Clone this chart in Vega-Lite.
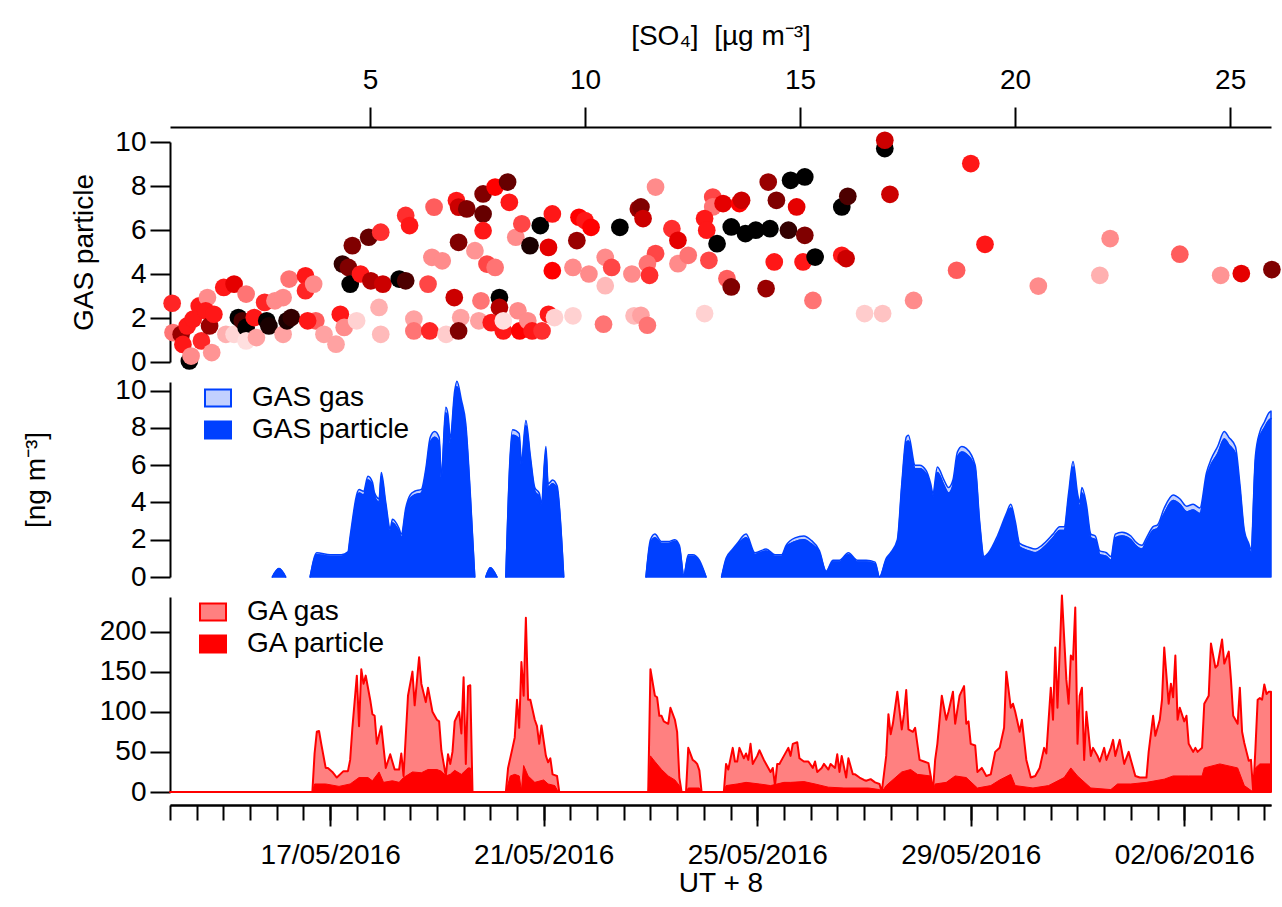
{
 "$schema": "https://vega.github.io/schema/vega-lite/v6.json",
 "background": "white",
 "autosize": {"type": "none"},
 "width": 1101,
 "height": 650,
 "padding": {"left": 170, "top": 142, "right": 11, "bottom": 115},
 "config": {
  "font": "Liberation Sans",
  "view": {"stroke": null},
  "axis": {"domainColor": "black", "tickColor": "black", "domainWidth": 2, "tickWidth": 2, "labelFontSize": 28, "titleFontSize": 28, "titleFontWeight": "normal", "labelColor": "black", "titleColor": "black", "grid": false, "labelFont": "Liberation Sans", "titleFont": "Liberation Sans"},
  "legend": {"labelFont": "Liberation Sans", "labelFontSize": 28, "labelColor": "black", "padding": 0}
 },
 "datasets": {
  "scatter": [
   {"so4":0.40,"gas_p":2.67,"c":0.42},{"so4":0.42,"gas_p":1.34,"c":0.25},{"so4":0.61,"gas_p":1.26,"c":0.7},{"so4":0.65,"gas_p":0.8,"c":0.45},{"so4":0.80,"gas_p":0.05,"c":1},{"so4":0.84,"gas_p":0.27,"c":0.2},{"so4":0.75,"gas_p":1.64,"c":0.45},{"so4":0.89,"gas_p":1.95,"c":0.45},{"so4":1.03,"gas_p":2.55,"c":0.45},{"so4":1.22,"gas_p":2.93,"c":0.2},
   {"so4":1.18,"gas_p":2.33,"c":0.45},{"so4":1.08,"gas_p":0.96,"c":0.42},{"so4":1.32,"gas_p":0.43,"c":0.18},{"so4":1.27,"gas_p":1.64,"c":0.7},{"so4":1.37,"gas_p":2.17,"c":0.45},{"so4":1.60,"gas_p":3.39,"c":0.45},{"so4":1.84,"gas_p":3.54,"c":0.55},{"so4":1.65,"gas_p":1.26,"c":0.12},{"so4":1.84,"gas_p":1.26,"c":0.04},{"so4":1.94,"gas_p":2.02,"c":1},
   {"so4":2.03,"gas_p":1.87,"c":0.85},{"so4":2.12,"gas_p":1.57,"c":1},{"so4":2.12,"gas_p":3.09,"c":0.25},{"so4":2.31,"gas_p":2.02,"c":0.45},{"so4":2.12,"gas_p":0.96,"c":0.02},{"so4":2.36,"gas_p":1.11,"c":0.15},{"so4":2.55,"gas_p":2.71,"c":0.42},{"so4":2.60,"gas_p":1.87,"c":1},{"so4":2.65,"gas_p":1.64,"c":0.95},{"so4":2.79,"gas_p":2.78,"c":0.2},
   {"so4":2.98,"gas_p":2.93,"c":0.2},{"so4":2.98,"gas_p":1.26,"c":0.15},{"so4":3.07,"gas_p":1.87,"c":0.95},{"so4":3.17,"gas_p":2.02,"c":0.9},{"so4":3.12,"gas_p":3.77,"c":0.25},{"so4":3.50,"gas_p":3.92,"c":0.45},{"so4":3.50,"gas_p":3.24,"c":0.42},{"so4":3.69,"gas_p":3.54,"c":0.2},{"so4":3.74,"gas_p":1.87,"c":0.3},{"so4":3.55,"gas_p":1.87,"c":0.45},
   {"so4":3.93,"gas_p":1.26,"c":0.15},{"so4":4.21,"gas_p":0.81,"c":0.15},{"so4":4.31,"gas_p":2.17,"c":0.45},{"so4":4.40,"gas_p":1.57,"c":0.2},{"so4":4.36,"gas_p":4.45,"c":0.9},{"so4":4.50,"gas_p":4.30,"c":0.75},{"so4":4.59,"gas_p":5.29,"c":0.75},{"so4":4.54,"gas_p":3.54,"c":1},{"so4":4.69,"gas_p":1.87,"c":0.05},{"so4":4.78,"gas_p":4.0,"c":0.45},
   {"so4":4.97,"gas_p":5.67,"c":0.8},{"so4":5.02,"gas_p":3.69,"c":0.65},{"so4":5.21,"gas_p":2.48,"c":0.12},{"so4":5.25,"gas_p":1.26,"c":0.1},{"so4":5.25,"gas_p":5.90,"c":0.4},{"so4":5.30,"gas_p":3.54,"c":0.6},{"so4":5.68,"gas_p":3.77,"c":1},{"so4":5.83,"gas_p":3.69,"c":0.85},{"so4":5.83,"gas_p":6.66,"c":0.4},{"so4":5.92,"gas_p":6.20,"c":0.45},
   {"so4":6.02,"gas_p":1.95,"c":0.15},{"so4":6.02,"gas_p":1.41,"c":0.25},{"so4":6.35,"gas_p":3.54,"c":0.35},{"so4":6.39,"gas_p":1.41,"c":0.42},{"so4":6.44,"gas_p":4.76,"c":0.2},{"so4":6.49,"gas_p":7.04,"c":0.3},{"so4":6.68,"gas_p":4.60,"c":0.2},{"so4":6.77,"gas_p":1.26,"c":0.06},{"so4":6.96,"gas_p":2.93,"c":0.6},{"so4":7.01,"gas_p":7.34,"c":0.45},
   {"so4":7.06,"gas_p":5.44,"c":0.75},{"so4":7.06,"gas_p":7.04,"c":0.6},{"so4":7.11,"gas_p":2.02,"c":0.15},{"so4":7.06,"gas_p":1.41,"c":0.75},{"so4":7.25,"gas_p":6.96,"c":0.75},{"so4":7.44,"gas_p":5.06,"c":0.18},{"so4":7.53,"gas_p":1.87,"c":0.15},{"so4":7.58,"gas_p":2.78,"c":0.25},{"so4":7.63,"gas_p":6.73,"c":0.8},{"so4":7.63,"gas_p":7.64,"c":0.75},
   {"so4":7.63,"gas_p":5.97,"c":0.45},{"so4":7.72,"gas_p":4.45,"c":0.35},{"so4":7.82,"gas_p":1.79,"c":0.45},{"so4":7.91,"gas_p":4.30,"c":0.25},{"so4":7.91,"gas_p":7.95,"c":0.5},{"so4":8.01,"gas_p":2.93,"c":1},{"so4":8.01,"gas_p":2.48,"c":0.65},{"so4":8.10,"gas_p":1.41,"c":0.45},{"so4":8.10,"gas_p":1.87,"c":0.02},{"so4":8.20,"gas_p":8.18,"c":0.8},
   {"so4":8.24,"gas_p":7.26,"c":0.45},{"so4":8.39,"gas_p":5.67,"c":0.2},{"so4":8.44,"gas_p":2.33,"c":0.2},{"so4":8.48,"gas_p":1.41,"c":0.5},{"so4":8.53,"gas_p":6.28,"c":0.35},{"so4":8.67,"gas_p":1.87,"c":0.2},{"so4":8.72,"gas_p":5.29,"c":0.95},{"so4":8.77,"gas_p":1.41,"c":0.45},{"so4":8.96,"gas_p":6.20,"c":1},{"so4":9.00,"gas_p":1.41,"c":0.4},
   {"so4":9.15,"gas_p":2.17,"c":0.45},{"so4":9.15,"gas_p":5.21,"c":0.55},{"so4":9.24,"gas_p":6.73,"c":0.45},{"so4":9.24,"gas_p":4.15,"c":0.5},{"so4":9.29,"gas_p":2.02,"c":0.05},{"so4":9.72,"gas_p":2.10,"c":0.05},{"so4":9.72,"gas_p":4.30,"c":0.2},{"so4":9.81,"gas_p":5.52,"c":0.7},{"so4":9.86,"gas_p":6.58,"c":0.5},{"so4":10.0,"gas_p":6.43,"c":0.45},
   {"so4":10.09,"gas_p":4.0,"c":0.2},{"so4":10.14,"gas_p":6.12,"c":0.5},{"so4":10.43,"gas_p":1.72,"c":0.25},{"so4":10.47,"gas_p":4.76,"c":0.2},{"so4":10.47,"gas_p":3.47,"c":0.1},{"so4":10.62,"gas_p":4.30,"c":0.35},{"so4":10.81,"gas_p":6.12,"c":1},{"so4":11.14,"gas_p":2.10,"c":0.1},{"so4":11.09,"gas_p":4.0,"c":0.2},{"so4":11.24,"gas_p":6.96,"c":0.7},
   {"so4":11.64,"gas_p":7.95,"c":0.2},{"so4":11.3,"gas_p":7.05,"c":0.75},{"so4":11.35,"gas_p":6.52,"c":0.6},{"so4":12.02,"gas_p":6.06,"c":0.4},{"so4":12.16,"gas_p":5.53,"c":0.55},{"so4":11.64,"gas_p":4.93,"c":0.35},{"so4":11.45,"gas_p":4.47,"c":0.25},{"so4":11.50,"gas_p":3.94,"c":0.4},{"so4":11.3,"gas_p":2.12,"c":0.15},{"so4":11.45,"gas_p":1.67,"c":0.25},
   {"so4":12.16,"gas_p":4.47,"c":0.2},{"so4":12.40,"gas_p":4.85,"c":0.25},{"so4":12.78,"gas_p":2.2,"c":0.05},{"so4":12.88,"gas_p":4.62,"c":0.35},{"so4":12.97,"gas_p":7.5,"c":0.35},{"so4":12.97,"gas_p":7.05,"c":0.25},{"so4":12.78,"gas_p":6.52,"c":0.45},{"so4":12.83,"gas_p":5.99,"c":0.45},{"so4":13.07,"gas_p":5.38,"c":1},{"so4":13.21,"gas_p":7.2,"c":0.55},
   {"so4":13.30,"gas_p":3.79,"c":0.3},{"so4":13.40,"gas_p":3.41,"c":0.75},{"so4":13.40,"gas_p":6.14,"c":1},{"so4":13.59,"gas_p":7.2,"c":0.5},{"so4":13.64,"gas_p":7.35,"c":0.6},{"so4":13.73,"gas_p":5.84,"c":1},{"so4":13.97,"gas_p":5.99,"c":1},{"so4":14.30,"gas_p":6.06,"c":1},{"so4":14.26,"gas_p":8.18,"c":0.7},{"so4":14.45,"gas_p":7.35,"c":0.75},
   {"so4":14.21,"gas_p":3.34,"c":0.7},{"so4":14.40,"gas_p":4.55,"c":0.45},{"so4":14.73,"gas_p":5.99,"c":0.9},{"so4":14.78,"gas_p":8.26,"c":1},{"so4":14.92,"gas_p":7.05,"c":0.55},{"so4":15.07,"gas_p":4.55,"c":0.45},{"so4":15.11,"gas_p":8.41,"c":1},{"so4":15.11,"gas_p":5.76,"c":0.75},{"so4":15.35,"gas_p":4.77,"c":1},{"so4":15.30,"gas_p":2.80,"c":0.25},
   {"so4":15.97,"gas_p":7.05,"c":1},{"so4":16.11,"gas_p":7.53,"c":0.85},{"so4":15.97,"gas_p":4.85,"c":0.45},{"so4":16.07,"gas_p":4.70,"c":0.6},{"so4":16.50,"gas_p":2.2,"c":0.06},{"so4":16.92,"gas_p":2.2,"c":0.08},{"so4":16.97,"gas_p":9.70,"c":1},{"so4":16.97,"gas_p":10.08,"c":0.6},{"so4":17.09,"gas_p":7.62,"c":0.6},{"so4":17.64,"gas_p":2.80,"c":0.2},
   {"so4":18.64,"gas_p":4.17,"c":0.3},{"so4":18.97,"gas_p":9.02,"c":0.45},{"so4":19.30,"gas_p":5.35,"c":0.45},{"so4":20.54,"gas_p":3.45,"c":0.2},{"so4":21.97,"gas_p":3.94,"c":0.12},{"so4":22.21,"gas_p":5.61,"c":0.2},{"so4":23.83,"gas_p":4.90,"c":0.3},{"so4":24.78,"gas_p":3.94,"c":0.18},{"so4":25.26,"gas_p":4.02,"c":0.55},{"so4":25.97,"gas_p":4.20,"c":0.75}
  ],
  "gas": [
   {"t":"2016-05-15T22:00","s":1,"GAS particle":0,"GAS gas":0},{"t":"2016-05-16T01:00","s":1,"GAS particle":0.45,"GAS gas":0},{"t":"2016-05-16T04:00","s":1,"GAS particle":0,"GAS gas":0},
   {"t":"2016-05-16T15:00","s":2,"GAS particle":0,"GAS gas":0},{"t":"2016-05-16T18:00","s":2,"GAS particle":1.2,"GAS gas":0.1},{"t":"2016-05-17T00:00","s":2,"GAS particle":1.1,"GAS gas":0.1},{"t":"2016-05-17T05:00","s":2,"GAS particle":1.1,"GAS gas":0.1},{"t":"2016-05-17T08:00","s":2,"GAS particle":1.25,"GAS gas":0.1},{"t":"2016-05-17T09:00","s":2,"GAS particle":2.0,"GAS gas":0.2},{"t":"2016-05-17T13:00","s":2,"GAS particle":4.5,"GAS gas":0.2},{"t":"2016-05-17T15:00","s":2,"GAS particle":4.4,"GAS gas":0.2},{"t":"2016-05-17T17:00","s":2,"GAS particle":5.2,"GAS gas":0.2},{"t":"2016-05-17T19:00","s":2,"GAS particle":4.9,"GAS gas":0.2},{"t":"2016-05-17T20:00","s":2,"GAS particle":4.3,"GAS gas":0.2},{"t":"2016-05-17T22:00","s":2,"GAS particle":4.0,"GAS gas":0.2},{"t":"2016-05-17T23:00","s":2,"GAS particle":5.4,"GAS gas":0.2},{"t":"2016-05-18T01:00","s":2,"GAS particle":3.8,"GAS gas":0.2},{"t":"2016-05-18T03:00","s":2,"GAS particle":2.4,"GAS gas":0.2},{"t":"2016-05-18T04:00","s":2,"GAS particle":2.9,"GAS gas":0.2},{"t":"2016-05-18T07:00","s":2,"GAS particle":2.4,"GAS gas":0.2},{"t":"2016-05-18T08:00","s":2,"GAS particle":2.1,"GAS gas":0.2},{"t":"2016-05-18T10:00","s":2,"GAS particle":3.5,"GAS gas":0.2},{"t":"2016-05-18T12:00","s":2,"GAS particle":4.2,"GAS gas":0.2},{"t":"2016-05-18T14:00","s":2,"GAS particle":4.4,"GAS gas":0.2},{"t":"2016-05-18T17:00","s":2,"GAS particle":4.5,"GAS gas":0.2},{"t":"2016-05-18T19:00","s":2,"GAS particle":5.6,"GAS gas":0.2},{"t":"2016-05-18T21:00","s":2,"GAS particle":7.2,"GAS gas":0.3},{"t":"2016-05-18T23:00","s":2,"GAS particle":7.5,"GAS gas":0.3},{"t":"2016-05-19T01:00","s":2,"GAS particle":7.2,"GAS gas":0.3},{"t":"2016-05-19T02:00","s":2,"GAS particle":5.3,"GAS gas":0.2},{"t":"2016-05-19T04:00","s":2,"GAS particle":8.8,"GAS gas":0.3},{"t":"2016-05-19T05:00","s":2,"GAS particle":8.4,"GAS gas":0.3},{"t":"2016-05-19T06:00","s":2,"GAS particle":7.2,"GAS gas":0.3},{"t":"2016-05-19T08:00","s":2,"GAS particle":9.7,"GAS gas":0.3},{"t":"2016-05-19T09:00","s":2,"GAS particle":10.2,"GAS gas":0.3},{"t":"2016-05-19T11:00","s":2,"GAS particle":9.2,"GAS gas":0.3},{"t":"2016-05-19T13:00","s":2,"GAS particle":7.9,"GAS gas":0.3},{"t":"2016-05-19T15:00","s":2,"GAS particle":4.3,"GAS gas":0.2},{"t":"2016-05-19T17:00","s":2,"GAS particle":0,"GAS gas":0},
   {"t":"2016-05-19T22:00","s":3,"GAS particle":0,"GAS gas":0},{"t":"2016-05-20T00:00","s":3,"GAS particle":0.5,"GAS gas":0},{"t":"2016-05-20T03:00","s":3,"GAS particle":0,"GAS gas":0},
   {"t":"2016-05-20T07:00","s":4,"GAS particle":0,"GAS gas":0},{"t":"2016-05-20T10:00","s":4,"GAS particle":7.6,"GAS gas":0.3},{"t":"2016-05-20T13:00","s":4,"GAS particle":7.4,"GAS gas":0.3},{"t":"2016-05-20T14:00","s":4,"GAS particle":6.0,"GAS gas":0.2},{"t":"2016-05-20T16:00","s":4,"GAS particle":8.1,"GAS gas":0.3},{"t":"2016-05-20T18:00","s":4,"GAS particle":6.3,"GAS gas":0.2},{"t":"2016-05-20T20:00","s":4,"GAS particle":4.6,"GAS gas":0.2},{"t":"2016-05-20T22:00","s":4,"GAS particle":4.3,"GAS gas":0.2},{"t":"2016-05-20T23:00","s":4,"GAS particle":3.8,"GAS gas":0.2},{"t":"2016-05-21T01:00","s":4,"GAS particle":6.7,"GAS gas":0.3},{"t":"2016-05-21T02:00","s":4,"GAS particle":4.8,"GAS gas":0.2},{"t":"2016-05-21T04:00","s":4,"GAS particle":5.0,"GAS gas":0.2},{"t":"2016-05-21T06:00","s":4,"GAS particle":4.7,"GAS gas":0.2},{"t":"2016-05-21T09:00","s":4,"GAS particle":0,"GAS gas":0},
   {"t":"2016-05-22T22:00","s":5,"GAS particle":0,"GAS gas":0},{"t":"2016-05-23T00:00","s":5,"GAS particle":1.8,"GAS gas":0.2},{"t":"2016-05-23T02:00","s":5,"GAS particle":2.1,"GAS gas":0.2},{"t":"2016-05-23T05:00","s":5,"GAS particle":1.8,"GAS gas":0.1},{"t":"2016-05-23T08:00","s":5,"GAS particle":1.8,"GAS gas":0.1},{"t":"2016-05-23T11:00","s":5,"GAS particle":1.9,"GAS gas":0.1},{"t":"2016-05-23T13:00","s":5,"GAS particle":1.6,"GAS gas":0.1},{"t":"2016-05-23T15:00","s":5,"GAS particle":0.1,"GAS gas":0},{"t":"2016-05-23T17:00","s":5,"GAS particle":1.1,"GAS gas":0.1},{"t":"2016-05-23T19:00","s":5,"GAS particle":1.1,"GAS gas":0.1},{"t":"2016-05-23T22:00","s":5,"GAS particle":0.8,"GAS gas":0.1},{"t":"2016-05-24T01:00","s":5,"GAS particle":0,"GAS gas":0},
   {"t":"2016-05-24T08:00","s":6,"GAS particle":0,"GAS gas":0},{"t":"2016-05-24T10:00","s":6,"GAS particle":0.9,"GAS gas":0.1},{"t":"2016-05-24T13:00","s":6,"GAS particle":1.4,"GAS gas":0.1},{"t":"2016-05-24T15:00","s":6,"GAS particle":1.7,"GAS gas":0.1},{"t":"2016-05-24T19:00","s":6,"GAS particle":2.1,"GAS gas":0.2},{"t":"2016-05-24T23:00","s":6,"GAS particle":1.2,"GAS gas":0.1},{"t":"2016-05-25T04:00","s":6,"GAS particle":1.4,"GAS gas":0.1},{"t":"2016-05-25T08:00","s":6,"GAS particle":1.1,"GAS gas":0.1},{"t":"2016-05-25T11:00","s":6,"GAS particle":1.1,"GAS gas":0.1},{"t":"2016-05-25T13:00","s":6,"GAS particle":1.6,"GAS gas":0.1},{"t":"2016-05-25T17:00","s":6,"GAS particle":1.9,"GAS gas":0.2},{"t":"2016-05-25T21:00","s":6,"GAS particle":2.0,"GAS gas":0.2},{"t":"2016-05-26T00:00","s":6,"GAS particle":1.8,"GAS gas":0.2},{"t":"2016-05-26T04:00","s":6,"GAS particle":1.3,"GAS gas":0.1},{"t":"2016-05-26T07:00","s":6,"GAS particle":0.3,"GAS gas":0},{"t":"2016-05-26T10:00","s":6,"GAS particle":0.8,"GAS gas":0.1},{"t":"2016-05-26T13:00","s":6,"GAS particle":0.8,"GAS gas":0.1},{"t":"2016-05-26T17:00","s":6,"GAS particle":1.2,"GAS gas":0.1},{"t":"2016-05-26T21:00","s":6,"GAS particle":0.8,"GAS gas":0.1},{"t":"2016-05-27T01:00","s":6,"GAS particle":0.8,"GAS gas":0.1},{"t":"2016-05-27T05:00","s":6,"GAS particle":0.7,"GAS gas":0.1},{"t":"2016-05-27T07:00","s":6,"GAS particle":0,"GAS gas":0},{"t":"2016-05-27T10:00","s":6,"GAS particle":0.9,"GAS gas":0.1},{"t":"2016-05-27T12:00","s":6,"GAS particle":1.2,"GAS gas":0.1},{"t":"2016-05-27T15:00","s":6,"GAS particle":1.8,"GAS gas":0.2},{"t":"2016-05-27T17:00","s":6,"GAS particle":4.8,"GAS gas":0.2},{"t":"2016-05-27T19:00","s":6,"GAS particle":7.2,"GAS gas":0.3},{"t":"2016-05-27T20:00","s":6,"GAS particle":7.3,"GAS gas":0.3},{"t":"2016-05-27T23:00","s":6,"GAS particle":5.8,"GAS gas":0.2},{"t":"2016-05-28T01:00","s":6,"GAS particle":5.8,"GAS gas":0.2},{"t":"2016-05-28T04:00","s":6,"GAS particle":5.5,"GAS gas":0.2},{"t":"2016-05-28T06:00","s":6,"GAS particle":4.8,"GAS gas":0.2},{"t":"2016-05-28T07:00","s":6,"GAS particle":4.3,"GAS gas":0.2},{"t":"2016-05-28T09:00","s":6,"GAS particle":5.6,"GAS gas":0.3},{"t":"2016-05-28T12:00","s":6,"GAS particle":4.9,"GAS gas":0.3},{"t":"2016-05-28T14:00","s":6,"GAS particle":4.5,"GAS gas":0.3},{"t":"2016-05-28T16:00","s":6,"GAS particle":4.9,"GAS gas":0.3},{"t":"2016-05-28T18:00","s":6,"GAS particle":6.4,"GAS gas":0.3},{"t":"2016-05-28T20:00","s":6,"GAS particle":6.7,"GAS gas":0.3},{"t":"2016-05-28T22:00","s":6,"GAS particle":6.6,"GAS gas":0.3},{"t":"2016-05-29T02:00","s":6,"GAS particle":5.8,"GAS gas":0.2},{"t":"2016-05-29T04:00","s":6,"GAS particle":2.8,"GAS gas":0.2},{"t":"2016-05-29T06:00","s":6,"GAS particle":1.0,"GAS gas":0.1},{"t":"2016-05-29T08:00","s":6,"GAS particle":1.2,"GAS gas":0.1},{"t":"2016-05-29T12:00","s":6,"GAS particle":2.0,"GAS gas":0.2},{"t":"2016-05-29T16:00","s":6,"GAS particle":3.2,"GAS gas":0.2},{"t":"2016-05-29T18:00","s":6,"GAS particle":3.7,"GAS gas":0.2},{"t":"2016-05-29T20:00","s":6,"GAS particle":2.8,"GAS gas":0.2},{"t":"2016-05-29T22:00","s":6,"GAS particle":1.6,"GAS gas":0.2},{"t":"2016-05-30T02:00","s":6,"GAS particle":1.4,"GAS gas":0.2},{"t":"2016-05-30T05:00","s":6,"GAS particle":1.3,"GAS gas":0.2},{"t":"2016-05-30T08:00","s":6,"GAS particle":1.5,"GAS gas":0.2},{"t":"2016-05-30T13:00","s":6,"GAS particle":2.1,"GAS gas":0.2},{"t":"2016-05-30T16:00","s":6,"GAS particle":2.5,"GAS gas":0.2},{"t":"2016-05-30T18:00","s":6,"GAS particle":2.5,"GAS gas":0.2},{"t":"2016-05-30T20:00","s":6,"GAS particle":4.2,"GAS gas":0.3},{"t":"2016-05-30T22:00","s":6,"GAS particle":5.9,"GAS gas":0.3},{"t":"2016-05-31T00:00","s":6,"GAS particle":4.2,"GAS gas":0.3},{"t":"2016-05-31T01:00","s":6,"GAS particle":3.7,"GAS gas":0.3},{"t":"2016-05-31T02:00","s":6,"GAS particle":4.5,"GAS gas":0.3},{"t":"2016-05-31T04:00","s":6,"GAS particle":3.6,"GAS gas":0.3},{"t":"2016-05-31T06:00","s":6,"GAS particle":2.1,"GAS gas":0.2},{"t":"2016-05-31T08:00","s":6,"GAS particle":2.0,"GAS gas":0.2},{"t":"2016-05-31T10:00","s":6,"GAS particle":1.2,"GAS gas":0.2},{"t":"2016-05-31T13:00","s":6,"GAS particle":1.1,"GAS gas":0.2},{"t":"2016-05-31T15:00","s":6,"GAS particle":0.9,"GAS gas":0.2},{"t":"2016-05-31T17:00","s":6,"GAS particle":2.1,"GAS gas":0.2},{"t":"2016-05-31T20:00","s":6,"GAS particle":2.2,"GAS gas":0.2},{"t":"2016-06-01T00:00","s":6,"GAS particle":2.0,"GAS gas":0.2},{"t":"2016-06-01T02:00","s":6,"GAS particle":1.7,"GAS gas":0.2},{"t":"2016-06-01T05:00","s":6,"GAS particle":1.5,"GAS gas":0.2},{"t":"2016-06-01T07:00","s":6,"GAS particle":1.9,"GAS gas":0.2},{"t":"2016-06-01T10:00","s":6,"GAS particle":2.5,"GAS gas":0.2},{"t":"2016-06-01T12:00","s":6,"GAS particle":2.6,"GAS gas":0.2},{"t":"2016-06-01T15:00","s":6,"GAS particle":3.4,"GAS gas":0.3},{"t":"2016-06-01T19:00","s":6,"GAS particle":4.1,"GAS gas":0.3},{"t":"2016-06-01T22:00","s":6,"GAS particle":3.9,"GAS gas":0.3},{"t":"2016-06-02T01:00","s":6,"GAS particle":3.5,"GAS gas":0.3},{"t":"2016-06-02T04:00","s":6,"GAS particle":3.6,"GAS gas":0.3},{"t":"2016-06-02T07:00","s":6,"GAS particle":3.4,"GAS gas":0.3},{"t":"2016-06-02T10:00","s":6,"GAS particle":5.3,"GAS gas":0.3},{"t":"2016-06-02T12:00","s":6,"GAS particle":6.0,"GAS gas":0.3},{"t":"2016-06-02T15:00","s":6,"GAS particle":6.6,"GAS gas":0.4},{"t":"2016-06-02T18:00","s":6,"GAS particle":7.4,"GAS gas":0.4},{"t":"2016-06-02T20:00","s":6,"GAS particle":7.1,"GAS gas":0.4},{"t":"2016-06-02T23:00","s":6,"GAS particle":6.6,"GAS gas":0.4},{"t":"2016-06-03T01:00","s":6,"GAS particle":4.7,"GAS gas":0.3},{"t":"2016-06-03T03:00","s":6,"GAS particle":2.3,"GAS gas":0.2},{"t":"2016-06-03T05:00","s":6,"GAS particle":1.6,"GAS gas":0.2},{"t":"2016-06-03T06:00","s":6,"GAS particle":1.3,"GAS gas":0.2},{"t":"2016-06-03T08:00","s":6,"GAS particle":6.2,"GAS gas":0.3},{"t":"2016-06-03T10:00","s":6,"GAS particle":7.5,"GAS gas":0.3},{"t":"2016-06-03T12:00","s":6,"GAS particle":8.0,"GAS gas":0.3},{"t":"2016-06-03T14:00","s":6,"GAS particle":8.4,"GAS gas":0.4},{"t":"2016-06-03T15:00","s":6,"GAS particle":8.5,"GAS gas":0.4}
  ],
  "ga_gas": [
   {"t":"2016-05-14T00:00","v":0},{"t":"2016-05-16T16:00","v":0},{"t":"2016-05-16T17:00","v":48},{"t":"2016-05-16T18:00","v":75},{"t":"2016-05-16T19:00","v":76},{"t":"2016-05-16T20:00","v":60},{"t":"2016-05-16T22:00","v":30},{"t":"2016-05-16T23:00","v":30},{"t":"2016-05-17T01:00","v":25},{"t":"2016-05-17T03:00","v":18},{"t":"2016-05-17T06:00","v":26},{"t":"2016-05-17T08:00","v":26},{"t":"2016-05-17T09:00","v":40},{"t":"2016-05-17T10:00","v":80},{"t":"2016-05-17T12:00","v":145},{"t":"2016-05-17T13:00","v":82},{"t":"2016-05-17T14:00","v":153},{"t":"2016-05-17T15:00","v":135},{"t":"2016-05-17T16:00","v":145},{"t":"2016-05-17T18:00","v":115},{"t":"2016-05-17T19:00","v":97},{"t":"2016-05-17T20:00","v":95},{"t":"2016-05-17T21:00","v":60},{"t":"2016-05-17T23:00","v":82},{"t":"2016-05-18T01:00","v":30},{"t":"2016-05-18T03:00","v":47},{"t":"2016-05-18T05:00","v":28},{"t":"2016-05-18T07:00","v":28},{"t":"2016-05-18T08:00","v":48},{"t":"2016-05-18T09:00","v":20},{"t":"2016-05-18T11:00","v":120},{"t":"2016-05-18T13:00","v":150},{"t":"2016-05-18T14:00","v":108},{"t":"2016-05-18T16:00","v":168},{"t":"2016-05-18T17:00","v":135},{"t":"2016-05-18T19:00","v":112},{"t":"2016-05-18T20:00","v":130},{"t":"2016-05-18T22:00","v":100},{"t":"2016-05-19T00:00","v":90},{"t":"2016-05-19T01:00","v":88},{"t":"2016-05-19T02:00","v":52},{"t":"2016-05-19T04:00","v":20},{"t":"2016-05-19T05:00","v":47},{"t":"2016-05-19T06:00","v":35},{"t":"2016-05-19T07:00","v":50},{"t":"2016-05-19T08:00","v":88},{"t":"2016-05-19T10:00","v":100},{"t":"2016-05-19T11:00","v":73},{"t":"2016-05-19T12:00","v":143},{"t":"2016-05-19T13:00","v":35},{"t":"2016-05-19T14:00","v":132},{"t":"2016-05-19T15:00","v":133},{"t":"2016-05-19T16:00","v":0},
   {"t":"2016-05-20T07:00","v":0},{"t":"2016-05-20T08:00","v":30},{"t":"2016-05-20T10:00","v":55},{"t":"2016-05-20T11:00","v":68},{"t":"2016-05-20T12:00","v":115},{"t":"2016-05-20T13:00","v":80},{"t":"2016-05-20T14:00","v":162},{"t":"2016-05-20T15:00","v":120},{"t":"2016-05-20T16:00","v":217},{"t":"2016-05-20T17:00","v":115},{"t":"2016-05-20T18:00","v":115},{"t":"2016-05-20T20:00","v":90},{"t":"2016-05-20T21:00","v":82},{"t":"2016-05-20T22:00","v":60},{"t":"2016-05-20T23:00","v":83},{"t":"2016-05-21T01:00","v":45},{"t":"2016-05-21T02:00","v":37},{"t":"2016-05-21T03:00","v":42},{"t":"2016-05-21T04:00","v":22},{"t":"2016-05-21T06:00","v":20},{"t":"2016-05-21T07:00","v":0},
   {"t":"2016-05-22T23:00","v":0},{"t":"2016-05-23T00:00","v":153},{"t":"2016-05-23T02:00","v":120},{"t":"2016-05-23T03:00","v":118},{"t":"2016-05-23T04:00","v":95},{"t":"2016-05-23T05:00","v":95},{"t":"2016-05-23T06:00","v":88},{"t":"2016-05-23T08:00","v":85},{"t":"2016-05-23T09:00","v":105},{"t":"2016-05-23T11:00","v":90},{"t":"2016-05-23T12:00","v":75},{"t":"2016-05-23T13:00","v":18},{"t":"2016-05-23T14:00","v":0},{"t":"2016-05-23T16:00","v":0},{"t":"2016-05-23T17:00","v":55},{"t":"2016-05-23T19:00","v":40},{"t":"2016-05-23T20:00","v":38},{"t":"2016-05-23T21:00","v":35},{"t":"2016-05-23T22:00","v":27},{"t":"2016-05-23T23:00","v":0},
   {"t":"2016-05-24T09:00","v":0},{"t":"2016-05-24T10:00","v":35},{"t":"2016-05-24T11:00","v":28},{"t":"2016-05-24T13:00","v":55},{"t":"2016-05-24T14:00","v":38},{"t":"2016-05-24T15:00","v":38},{"t":"2016-05-24T16:00","v":55},{"t":"2016-05-24T18:00","v":42},{"t":"2016-05-24T19:00","v":48},{"t":"2016-05-24T20:00","v":40},{"t":"2016-05-24T21:00","v":60},{"t":"2016-05-24T22:00","v":35},{"t":"2016-05-25T00:00","v":45},{"t":"2016-05-25T01:00","v":52},{"t":"2016-05-25T03:00","v":40},{"t":"2016-05-25T04:00","v":35},{"t":"2016-05-25T06:00","v":25},{"t":"2016-05-25T07:00","v":30},{"t":"2016-05-25T08:00","v":8},{"t":"2016-05-25T09:00","v":35},{"t":"2016-05-25T10:00","v":35},{"t":"2016-05-25T12:00","v":45},{"t":"2016-05-25T14:00","v":55},{"t":"2016-05-25T15:00","v":45},{"t":"2016-05-25T16:00","v":60},{"t":"2016-05-25T18:00","v":62},{"t":"2016-05-25T19:00","v":42},{"t":"2016-05-25T21:00","v":38},{"t":"2016-05-25T23:00","v":38},{"t":"2016-05-26T01:00","v":30},{"t":"2016-05-26T02:00","v":38},{"t":"2016-05-26T03:00","v":25},{"t":"2016-05-26T05:00","v":30},{"t":"2016-05-26T06:00","v":35},{"t":"2016-05-26T08:00","v":28},{"t":"2016-05-26T09:00","v":35},{"t":"2016-05-26T11:00","v":30},{"t":"2016-05-26T12:00","v":47},{"t":"2016-05-26T13:00","v":25},{"t":"2016-05-26T14:00","v":45},{"t":"2016-05-26T16:00","v":18},{"t":"2016-05-26T17:00","v":42},{"t":"2016-05-26T19:00","v":22},{"t":"2016-05-26T20:00","v":22},{"t":"2016-05-26T22:00","v":18},{"t":"2016-05-27T00:00","v":15},{"t":"2016-05-27T01:00","v":14},{"t":"2016-05-27T03:00","v":16},{"t":"2016-05-27T05:00","v":12},{"t":"2016-05-27T07:00","v":10},{"t":"2016-05-27T08:00","v":0},
   {"t":"2016-05-27T10:00","v":45},{"t":"2016-05-27T11:00","v":97},{"t":"2016-05-27T12:00","v":72},{"t":"2016-05-27T13:00","v":85},{"t":"2016-05-27T15:00","v":125},{"t":"2016-05-27T17:00","v":78},{"t":"2016-05-27T18:00","v":97},{"t":"2016-05-27T19:00","v":127},{"t":"2016-05-27T20:00","v":78},{"t":"2016-05-27T22:00","v":75},{"t":"2016-05-27T23:00","v":80},{"t":"2016-05-28T00:00","v":60},{"t":"2016-05-28T01:00","v":40},{"t":"2016-05-28T03:00","v":38},{"t":"2016-05-28T05:00","v":36},{"t":"2016-05-28T06:00","v":20},{"t":"2016-05-28T07:00","v":0},{"t":"2016-05-28T08:00","v":40},{"t":"2016-05-28T09:00","v":60},{"t":"2016-05-28T11:00","v":120},{"t":"2016-05-28T13:00","v":90},{"t":"2016-05-28T14:00","v":100},{"t":"2016-05-28T16:00","v":125},{"t":"2016-05-28T17:00","v":85},{"t":"2016-05-28T19:00","v":120},{"t":"2016-05-28T21:00","v":132},{"t":"2016-05-28T22:00","v":85},{"t":"2016-05-28T23:00","v":88},{"t":"2016-05-29T00:00","v":60},{"t":"2016-05-29T02:00","v":58},{"t":"2016-05-29T03:00","v":25},{"t":"2016-05-29T05:00","v":30},{"t":"2016-05-29T07:00","v":20},{"t":"2016-05-29T09:00","v":22},{"t":"2016-05-29T11:00","v":50},{"t":"2016-05-29T13:00","v":55},{"t":"2016-05-29T15:00","v":80},{"t":"2016-05-29T16:00","v":150},{"t":"2016-05-29T18:00","v":105},{"t":"2016-05-29T19:00","v":110},{"t":"2016-05-29T20:00","v":100},{"t":"2016-05-29T22:00","v":75},{"t":"2016-05-29T23:00","v":90},{"t":"2016-05-30T01:00","v":40},{"t":"2016-05-30T03:00","v":18},{"t":"2016-05-30T05:00","v":20},{"t":"2016-05-30T07:00","v":30},{"t":"2016-05-30T09:00","v":55},{"t":"2016-05-30T10:00","v":48},{"t":"2016-05-30T12:00","v":130},{"t":"2016-05-30T13:00","v":90},{"t":"2016-05-30T14:00","v":180},{"t":"2016-05-30T15:00","v":105},{"t":"2016-05-30T17:00","v":245},{"t":"2016-05-30T19:00","v":140},{"t":"2016-05-30T20:00","v":110},{"t":"2016-05-30T21:00","v":170},{"t":"2016-05-30T22:00","v":165},{"t":"2016-05-30T23:00","v":230},{"t":"2016-05-31T00:00","v":60},{"t":"2016-05-31T01:00","v":120},{"t":"2016-05-31T02:00","v":130},{"t":"2016-05-31T03:00","v":40},{"t":"2016-05-31T04:00","v":100},{"t":"2016-05-31T06:00","v":45},{"t":"2016-05-31T07:00","v":55},{"t":"2016-05-31T09:00","v":45},{"t":"2016-05-31T10:00","v":38},{"t":"2016-05-31T12:00","v":55},{"t":"2016-05-31T13:00","v":40},{"t":"2016-05-31T15:00","v":55},{"t":"2016-05-31T16:00","v":65},{"t":"2016-05-31T17:00","v":45},{"t":"2016-05-31T19:00","v":65},{"t":"2016-05-31T20:00","v":50},{"t":"2016-05-31T21:00","v":35},{"t":"2016-05-31T23:00","v":50},{"t":"2016-06-01T00:00","v":40},{"t":"2016-06-01T02:00","v":20},{"t":"2016-06-01T04:00","v":18},{"t":"2016-06-01T07:00","v":18},{"t":"2016-06-01T08:00","v":50},{"t":"2016-06-01T10:00","v":95},{"t":"2016-06-01T11:00","v":70},{"t":"2016-06-01T13:00","v":90},{"t":"2016-06-01T14:00","v":115},{"t":"2016-06-01T15:00","v":180},{"t":"2016-06-01T17:00","v":110},{"t":"2016-06-01T18:00","v":135},{"t":"2016-06-01T19:00","v":118},{"t":"2016-06-01T20:00","v":170},{"t":"2016-06-01T21:00","v":90},{"t":"2016-06-01T22:00","v":105},{"t":"2016-06-02T00:00","v":88},{"t":"2016-06-02T01:00","v":95},{"t":"2016-06-02T02:00","v":60},{"t":"2016-06-02T04:00","v":50},{"t":"2016-06-02T05:00","v":55},{"t":"2016-06-02T06:00","v":50},{"t":"2016-06-02T08:00","v":55},{"t":"2016-06-02T09:00","v":110},{"t":"2016-06-02T11:00","v":120},{"t":"2016-06-02T12:00","v":185},{"t":"2016-06-02T14:00","v":155},{"t":"2016-06-02T15:00","v":158},{"t":"2016-06-02T17:00","v":190},{"t":"2016-06-02T18:00","v":160},{"t":"2016-06-02T20:00","v":175},{"t":"2016-06-02T21:00","v":140},{"t":"2016-06-02T22:00","v":95},{"t":"2016-06-03T00:00","v":85},{"t":"2016-06-03T01:00","v":130},{"t":"2016-06-03T02:00","v":75},{"t":"2016-06-03T03:00","v":61},{"t":"2016-06-03T04:00","v":50},{"t":"2016-06-03T05:00","v":39},{"t":"2016-06-03T06:00","v":40},{"t":"2016-06-03T07:00","v":0},{"t":"2016-06-03T08:00","v":54},{"t":"2016-06-03T09:00","v":115},{"t":"2016-06-03T10:00","v":117},{"t":"2016-06-03T11:00","v":115},{"t":"2016-06-03T12:00","v":134},{"t":"2016-06-03T13:00","v":122},{"t":"2016-06-03T14:00","v":125},{"t":"2016-06-03T15:00","v":125}
  ],
  "ga_particle": [
   {"t":"2016-05-14T00:00","v":0},{"t":"2016-05-16T16:00","v":0},{"t":"2016-05-16T17:00","v":10},{"t":"2016-05-16T22:00","v":10},{"t":"2016-05-17T04:00","v":7},{"t":"2016-05-17T09:00","v":10},{"t":"2016-05-17T13:00","v":18},{"t":"2016-05-17T17:00","v":18},{"t":"2016-05-17T19:00","v":14},{"t":"2016-05-17T22:00","v":25},{"t":"2016-05-18T00:00","v":12},{"t":"2016-05-18T04:00","v":14},{"t":"2016-05-18T07:00","v":12},{"t":"2016-05-18T09:00","v":18},{"t":"2016-05-18T13:00","v":25},{"t":"2016-05-18T17:00","v":24},{"t":"2016-05-18T20:00","v":28},{"t":"2016-05-19T00:00","v":28},{"t":"2016-05-19T02:00","v":26},{"t":"2016-05-19T04:00","v":20},{"t":"2016-05-19T06:00","v":22},{"t":"2016-05-19T08:00","v":27},{"t":"2016-05-19T11:00","v":22},{"t":"2016-05-19T14:00","v":30},{"t":"2016-05-19T15:00","v":30},{"t":"2016-05-19T16:00","v":0},
   {"t":"2016-05-20T07:00","v":0},{"t":"2016-05-20T09:00","v":20},{"t":"2016-05-20T11:00","v":22},{"t":"2016-05-20T13:00","v":20},{"t":"2016-05-20T14:00","v":2},{"t":"2016-05-20T15:00","v":33},{"t":"2016-05-20T17:00","v":20},{"t":"2016-05-20T20:00","v":12},{"t":"2016-05-21T00:00","v":15},{"t":"2016-05-21T02:00","v":10},{"t":"2016-05-21T05:00","v":8},{"t":"2016-05-21T06:00","v":3},{"t":"2016-05-21T07:00","v":0},
   {"t":"2016-05-22T23:00","v":0},{"t":"2016-05-23T00:00","v":45},{"t":"2016-05-23T02:00","v":38},{"t":"2016-05-23T05:00","v":28},{"t":"2016-05-23T08:00","v":20},{"t":"2016-05-23T11:00","v":15},{"t":"2016-05-23T13:00","v":8},{"t":"2016-05-23T14:00","v":0},{"t":"2016-05-23T16:00","v":0},{"t":"2016-05-23T17:00","v":5},{"t":"2016-05-23T22:00","v":5},{"t":"2016-05-23T23:00","v":0},
   {"t":"2016-05-24T09:00","v":0},{"t":"2016-05-24T10:00","v":8},{"t":"2016-05-24T15:00","v":10},{"t":"2016-05-24T19:00","v":12},{"t":"2016-05-25T01:00","v":10},{"t":"2016-05-25T06:00","v":8},{"t":"2016-05-25T12:00","v":12},{"t":"2016-05-25T15:00","v":12},{"t":"2016-05-25T21:00","v":13},{"t":"2016-05-26T02:00","v":10},{"t":"2016-05-26T08:00","v":6},{"t":"2016-05-26T15:00","v":5},{"t":"2016-05-27T02:00","v":5},{"t":"2016-05-27T07:00","v":3},{"t":"2016-05-27T08:00","v":0},
   {"t":"2016-05-27T10:00","v":8},{"t":"2016-05-27T17:00","v":25},{"t":"2016-05-27T21:00","v":28},{"t":"2016-05-28T00:00","v":22},{"t":"2016-05-28T06:00","v":20},{"t":"2016-05-28T07:00","v":0},{"t":"2016-05-28T08:00","v":10},{"t":"2016-05-28T13:00","v":12},{"t":"2016-05-28T17:00","v":20},{"t":"2016-05-28T22:00","v":18},{"t":"2016-05-29T03:00","v":5},{"t":"2016-05-29T09:00","v":8},{"t":"2016-05-29T13:00","v":15},{"t":"2016-05-29T18:00","v":22},{"t":"2016-05-29T20:00","v":8},{"t":"2016-05-30T04:00","v":5},{"t":"2016-05-30T11:00","v":8},{"t":"2016-05-30T18:00","v":18},{"t":"2016-05-30T21:00","v":30},{"t":"2016-05-31T00:00","v":20},{"t":"2016-05-31T06:00","v":5},{"t":"2016-05-31T15:00","v":3},{"t":"2016-05-31T18:00","v":10},{"t":"2016-06-01T00:00","v":10},{"t":"2016-06-01T07:00","v":12},{"t":"2016-06-01T15:00","v":16},{"t":"2016-06-01T19:00","v":20},{"t":"2016-06-02T02:00","v":20},{"t":"2016-06-02T08:00","v":20},{"t":"2016-06-02T09:00","v":30},{"t":"2016-06-02T16:00","v":35},{"t":"2016-06-03T00:00","v":30},{"t":"2016-06-03T03:00","v":8},{"t":"2016-06-03T07:00","v":0},{"t":"2016-06-03T08:00","v":30},{"t":"2016-06-03T10:00","v":35},{"t":"2016-06-03T15:00","v":35}
  ]
 },
 "resolve": {"scale": {"x": "independent", "y": "independent", "color": "independent"}, "axis": {"x": "independent", "y": "independent"}, "legend": {"color": "independent"}},
 "layer": [
  {
   "data": {"name": "scatter"},
   "mark": {"type": "circle", "size": 314, "opacity": 1},
   "encoding": {
    "x": {"field": "so4", "type": "quantitative", "scale": {"domain": [0.35, 25.95], "nice": false, "zero": false},
      "axis": {"orient": "top", "offset": 15, "values": [5, 10, 15, 20, 25], "tickSize": 20, "labelPadding": 13, "title": "[SO₄]\u00a0 [µg m⁻³]", "titlePadding": 16}},
    "y": {"field": "gas_p", "type": "quantitative", "scale": {"domain": [0, 10], "range": [220, 0], "nice": false},
      "axis": {"orient": "left", "values": [0, 2, 4, 6, 8, 10], "tickSize": 20, "labelPadding": 4, "title": "GAS particle", "titlePadding": 16}},
    "color": {"field": "c", "type": "quantitative", "scale": {"domain": [0, 0.5, 1], "range": ["#ffe8e8", "#ff0000", "#000000"], "interpolate": "rgb"}, "legend": null}
   }
  },
  {
   "data": {"name": "gas"},
   "transform": [
    {"fold": ["GAS gas", "GAS particle"], "as": ["k", "v"]},
    {"stack": "v", "groupby": ["t"], "sort": [{"field": "k", "order": "descending"}], "as": ["v0", "v1"]}
   ],
   "mark": {"type": "area", "interpolate": "monotone", "stroke": "#0040ff", "strokeWidth": 1.5, "strokeJoin": "round", "opacity": 1},
   "encoding": {
    "x": {"field": "t", "type": "temporal", "scale": {"domain": [{"year": 2016, "month": 5, "date": 14}, {"year": 2016, "month": 6, "date": 3, "hours": 15}], "nice": false}, "axis": null},
    "y": {"field": "v1", "type": "quantitative", "scale": {"domain": [0, 10.46], "range": [435, 240], "nice": false},
      "axis": {"orient": "left", "values": [0, 2, 4, 6, 8, 10], "tickSize": 20, "labelPadding": 4, "title": "[ng m⁻³]", "titlePadding": 64}},
    "y2": {"field": "v0"},
    "color": {"field": "k", "type": "nominal", "scale": {"domain": ["GAS gas", "GAS particle"], "range": ["#c2d0ff", "#0040ff"]},
      "legend": {"orient": "none", "legendX": 34, "legendY": 242, "title": null, "symbolType": "M-1.3,-0.85H1.3V0.85H-1.3Z", "symbolSize": 400, "symbolStrokeWidth": 2, "symbolStrokeColor": "#0040ff", "labelOffset": 20, "rowPadding": 4}},
    "detail": {"field": "s", "type": "nominal"}
   }
  },
  {
   "resolve": {"scale": {"x": "independent"}, "axis": {"x": "independent"}},
   "layer": [
    {
     "data": {"name": "ga_gas"},
     "mark": {"type": "area", "stroke": "#ff0000", "strokeWidth": 2, "strokeJoin": "round", "opacity": 1},
     "encoding": {
      "x": {"field": "t", "type": "temporal", "scale": {"domain": [{"year": 2016, "month": 5, "date": 14}, {"year": 2016, "month": 6, "date": 3, "hours": 15}], "nice": false},
        "axis": {"orient": "bottom", "offset": 13, "values": [{"year": 2016, "month": 5, "date": 17}, {"year": 2016, "month": 5, "date": 21}, {"year": 2016, "month": 5, "date": 25}, {"year": 2016, "month": 5, "date": 29}, {"year": 2016, "month": 6, "date": 2}],
          "format": "%d/%m/%Y", "tickSize": 21, "labelOverlap": false, "labelFlush": false, "labelPadding": 15, "title": "UT + 8", "titlePadding": 0}},
      "y": {"field": "v", "type": "quantitative", "stack": null, "scale": {"domain": [0, 243], "range": [650, 455], "nice": false},
        "axis": {"orient": "left", "values": [0, 50, 100, 150, 200], "tickSize": 20, "labelPadding": 4, "title": null}},
      "color": {"datum": "GA gas", "type": "nominal", "scale": {"domain": ["GA gas", "GA particle"], "range": ["#ff8080", "#ff0000"]},
        "legend": {"orient": "none", "legendX": 29, "legendY": 456, "title": null, "symbolType": "M-1.3,-0.85H1.3V0.85H-1.3Z", "symbolSize": 400, "symbolStrokeWidth": 2, "symbolStrokeColor": "#ff0000", "labelOffset": 20, "rowPadding": 4}}
     }
    },
    {
     "data": {"name": "ga_particle"},
     "mark": {"type": "area", "stroke": "#ff0000", "strokeWidth": 1, "strokeJoin": "round", "opacity": 1},
     "encoding": {
      "x": {"field": "t", "type": "temporal", "scale": {"domain": [{"year": 2016, "month": 5, "date": 14}, {"year": 2016, "month": 6, "date": 3, "hours": 15}], "nice": false},
        "axis": {"orient": "bottom", "offset": 13, "tickSize": 15, "labels": false, "title": null,
          "values": [{"year":2016,"month":5,"date":14},{"year":2016,"month":5,"date":14,"hours":12},{"year":2016,"month":5,"date":15},{"year":2016,"month":5,"date":15,"hours":12},{"year":2016,"month":5,"date":16},{"year":2016,"month":5,"date":16,"hours":12},{"year":2016,"month":5,"date":17},{"year":2016,"month":5,"date":17,"hours":12},{"year":2016,"month":5,"date":18},{"year":2016,"month":5,"date":18,"hours":12},{"year":2016,"month":5,"date":19},{"year":2016,"month":5,"date":19,"hours":12},{"year":2016,"month":5,"date":20},{"year":2016,"month":5,"date":20,"hours":12},{"year":2016,"month":5,"date":21},{"year":2016,"month":5,"date":21,"hours":12},{"year":2016,"month":5,"date":22},{"year":2016,"month":5,"date":22,"hours":12},{"year":2016,"month":5,"date":23},{"year":2016,"month":5,"date":23,"hours":12},{"year":2016,"month":5,"date":24},{"year":2016,"month":5,"date":24,"hours":12},{"year":2016,"month":5,"date":25},{"year":2016,"month":5,"date":25,"hours":12},{"year":2016,"month":5,"date":26},{"year":2016,"month":5,"date":26,"hours":12},{"year":2016,"month":5,"date":27},{"year":2016,"month":5,"date":27,"hours":12},{"year":2016,"month":5,"date":28},{"year":2016,"month":5,"date":28,"hours":12},{"year":2016,"month":5,"date":29},{"year":2016,"month":5,"date":29,"hours":12},{"year":2016,"month":5,"date":30},{"year":2016,"month":5,"date":30,"hours":12},{"year":2016,"month":5,"date":31},{"year":2016,"month":5,"date":31,"hours":12},{"year":2016,"month":6,"date":1},{"year":2016,"month":6,"date":1,"hours":12},{"year":2016,"month":6,"date":2},{"year":2016,"month":6,"date":2,"hours":12},{"year":2016,"month":6,"date":3},{"year":2016,"month":6,"date":3,"hours":12}]}},
      "y": {"field": "v", "type": "quantitative", "stack": null},
      "color": {"datum": "GA particle", "type": "nominal"}
     }
    }
   ]
  }
 ]
}
